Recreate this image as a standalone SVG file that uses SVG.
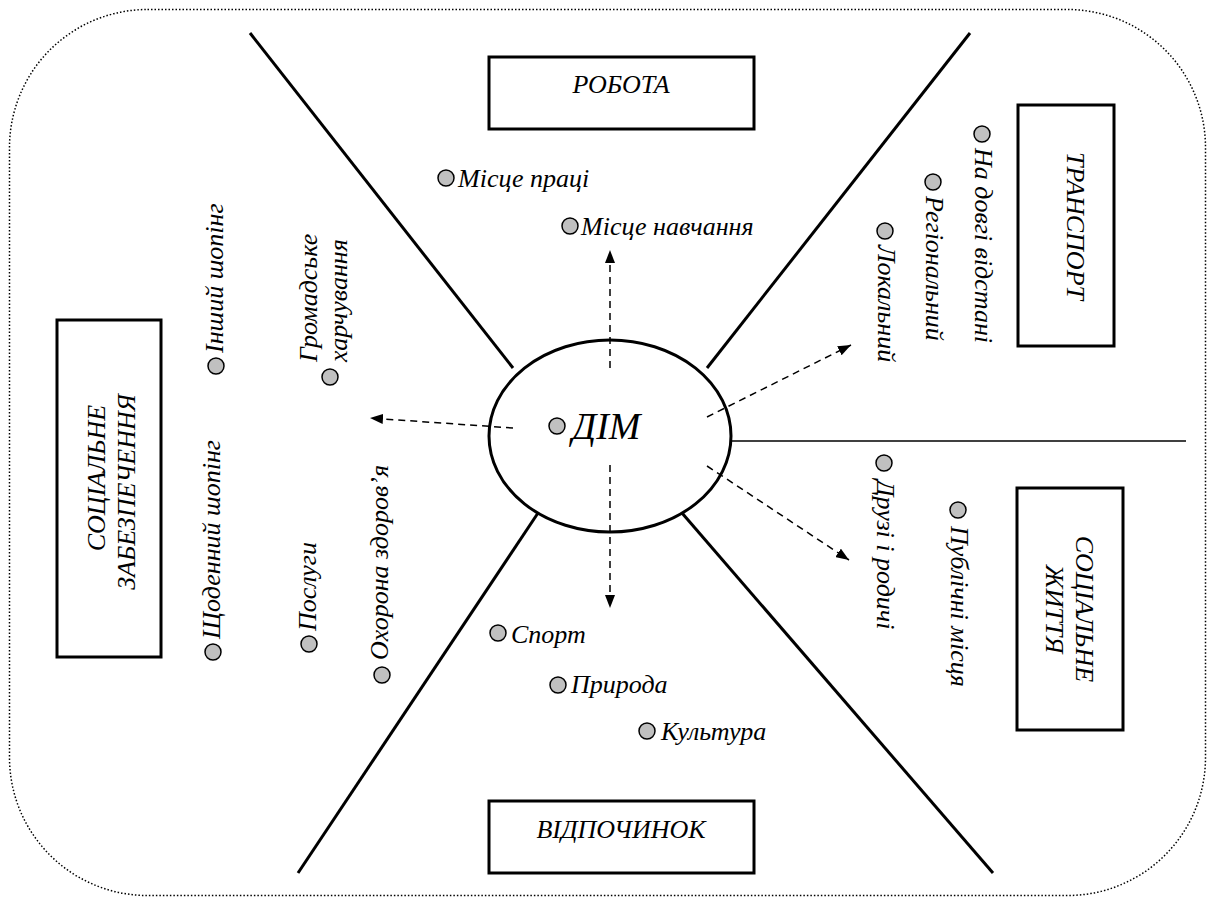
<svg xmlns="http://www.w3.org/2000/svg" width="1207" height="897" viewBox="0 0 1207 897" font-family="Liberation Serif, Times New Roman, serif">
<defs>
<style>
text{font-family:"Liberation Serif","Times New Roman",serif;font-style:italic;font-size:26px;fill:#000}
.big{font-size:38px}
.box{fill:#fff;stroke:#000;stroke-width:3}
.bul{fill:#c0c0c0;stroke:#000;stroke-width:1.5}
.sep{fill:none;stroke:#000;stroke-width:3}
.dash{fill:none;stroke:#000;stroke-width:1.5;stroke-dasharray:7 5}
</style>
<marker id="ah" markerUnits="userSpaceOnUse" markerWidth="14" markerHeight="10" refX="13" refY="5" orient="auto">
<path d="M0,0 L13,5 L0,10 z" fill="#000"/>
</marker>
</defs>
<rect width="1207" height="897" fill="#fff"/>
<rect id="frame" x="9.5" y="9.5" width="1196" height="886" rx="138" ry="138" fill="none" stroke="#000" stroke-width="1.5" stroke-dasharray="1.5 2"/>

<g id="separators">
<line class="sep" x1="250" y1="33" x2="513" y2="368"/>
<line class="sep" x1="970" y1="33" x2="707" y2="368"/>
<line class="sep" x1="538" y1="513" x2="298" y2="873"/>
<line class="sep" x1="682" y1="513" x2="993" y2="873"/>
<line x1="730" y1="441" x2="1186" y2="441" stroke="#000" stroke-width="1.5"/>
</g>

<g id="home">
<ellipse cx="610" cy="436" rx="121" ry="96" fill="#fff" stroke="#000" stroke-width="3"/>
<circle class="bul" cx="557" cy="426" r="8"/>
<text class="big" x="572" y="439" font-family="Liberation Serif" font-style="italic">ДІМ</text>
</g>

<g id="connectors">
<line class="dash" x1="610" y1="368" x2="610" y2="250" marker-end="url(#ah)"/>
<line class="dash" x1="610" y1="465" x2="610" y2="608" marker-end="url(#ah)"/>
<line class="dash" x1="513" y1="428" x2="370" y2="418" marker-end="url(#ah)"/>
<line class="dash" x1="707" y1="417" x2="851" y2="345" marker-end="url(#ah)"/>
<line class="dash" x1="707" y1="466" x2="849" y2="560" marker-end="url(#ah)"/>
</g>

<g id="work" font-family="Liberation Serif" font-style="italic">
<rect class="box" x="489" y="57" width="265" height="72"/>
<text x="621" y="93" text-anchor="middle">РОБОТА</text>
<circle class="bul" cx="446" cy="178" r="8"/>
<text x="458" y="187">Місце праці</text>
<circle class="bul" cx="570" cy="226" r="8"/>
<text x="581" y="235">Місце навчання</text>
</g>

<g id="leisure" font-family="Liberation Serif" font-style="italic">
<rect class="box" x="489" y="801" width="265" height="72"/>
<text x="621" y="838" text-anchor="middle">ВІДПОЧИНОК</text>
<circle class="bul" cx="498" cy="633" r="8"/>
<text x="511" y="643">Спорт</text>
<circle class="bul" cx="558" cy="685" r="8"/>
<text x="571" y="693">Природа</text>
<circle class="bul" cx="647" cy="731" r="8"/>
<text x="661" y="740">Культура</text>
</g>

<g id="transport" font-family="Liberation Serif" font-style="italic">
<rect class="box" x="1018" y="105" width="96" height="241"/>
<text transform="translate(1067,226) rotate(90)" text-anchor="middle">ТРАНСПОРТ</text>
<circle class="bul" cx="982" cy="134" r="8"/>
<text transform="translate(975,148) rotate(90)">На довгі відстані</text>
<circle class="bul" cx="933" cy="182" r="8"/>
<text transform="translate(926,196) rotate(90)">Регіональний</text>
<circle class="bul" cx="885" cy="231" r="8"/>
<text transform="translate(878,245) rotate(90)">Локальний</text>
</g>

<g id="social-life" font-family="Liberation Serif" font-style="italic">
<rect class="box" x="1017" y="488" width="106" height="242"/>
<text transform="translate(1076,609) rotate(90)" text-anchor="middle">СОЦІАЛЬНЕ</text>
<text transform="translate(1046,609) rotate(90)" text-anchor="middle">ЖИТТЯ</text>
<circle class="bul" cx="884" cy="463" r="8"/>
<text transform="translate(877,480) rotate(90)">Друзі і родичі</text>
<circle class="bul" cx="958" cy="510" r="8"/>
<text transform="translate(951,526) rotate(90)">Публічні місця</text>
</g>

<g id="social-services" font-family="Liberation Serif" font-style="italic">
<rect class="box" x="57" y="320" width="104" height="337"/>
<text transform="translate(105,478) rotate(-90)" text-anchor="middle">СОЦІАЛЬНЕ</text>
<text transform="translate(135,492) rotate(-90)" text-anchor="middle">ЗАБЕЗПЕЧЕННЯ</text>
<circle class="bul" cx="216" cy="366" r="8"/>
<text transform="translate(223,353) rotate(-90)">Інший шопінг</text>
<circle class="bul" cx="213" cy="652" r="8"/>
<text transform="translate(220,639) rotate(-90)">Щоденний шопінг</text>
<circle class="bul" cx="330" cy="377" r="8"/>
<text transform="translate(317,362) rotate(-90)">Громадське</text>
<text transform="translate(347,362) rotate(-90)">харчування</text>
<circle class="bul" cx="309" cy="644" r="8"/>
<text transform="translate(316,631) rotate(-90)">Послуги</text>
<circle class="bul" cx="382" cy="675" r="8"/>
<text transform="translate(388,660) rotate(-90)">Охорона здоров’я</text>
</g>
</svg>
